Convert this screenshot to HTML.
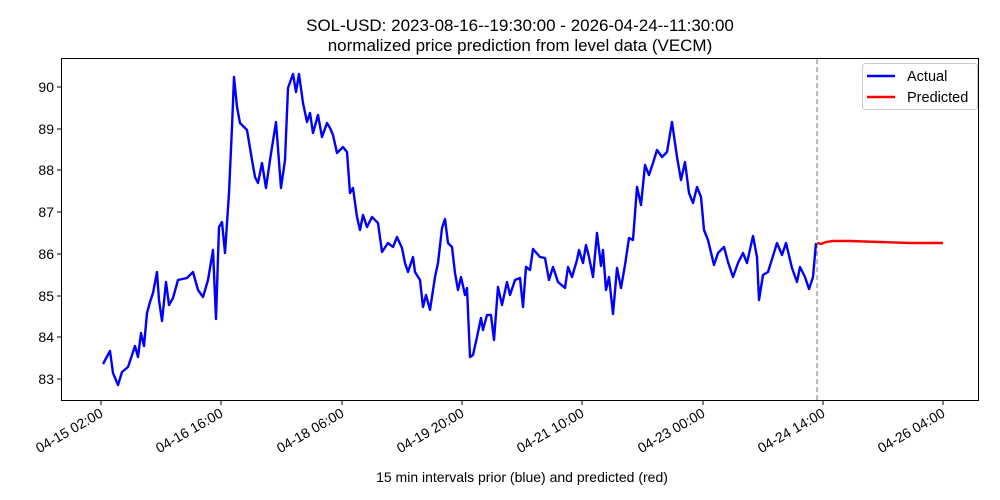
<!DOCTYPE html>
<html><head><meta charset="utf-8"><style>body{margin:0;background:#fff}svg{display:block}text{font-family:"Liberation Sans","DejaVu Sans",sans-serif;fill:#000}</style></head><body>
<svg width="1000" height="500" viewBox="0 0 1000 500">
<text x="520" y="31" font-size="17" text-anchor="middle">SOL-USD: 2023-08-16--19:30:00 - 2026-04-24--11:30:00</text>
<text x="520" y="51" font-size="17" text-anchor="middle">normalized price prediction from level data (VECM)</text>
<rect x="61.5" y="58.5" width="917" height="342" fill="none" stroke="#000" stroke-width="1"/>
<g font-size="14" text-anchor="end">
<line x1="57" x2="61" y1="87" y2="87" stroke="#000"/><text x="54" y="92">90</text>
<line x1="57" x2="61" y1="129" y2="129" stroke="#000"/><text x="54" y="134">89</text>
<line x1="57" x2="61" y1="170" y2="170" stroke="#000"/><text x="54" y="175">88</text>
<line x1="57" x2="61" y1="212" y2="212" stroke="#000"/><text x="54" y="217">87</text>
<line x1="57" x2="61" y1="254" y2="254" stroke="#000"/><text x="54" y="259">86</text>
<line x1="57" x2="61" y1="296" y2="296" stroke="#000"/><text x="54" y="301">85</text>
<line x1="57" x2="61" y1="337" y2="337" stroke="#000"/><text x="54" y="342">84</text>
<line x1="57" x2="61" y1="379" y2="379" stroke="#000"/><text x="54" y="384">83</text>
</g>
<g stroke="#000">
<line x1="101" x2="101" y1="401" y2="405"/><line x1="221" x2="221" y1="401" y2="405"/><line x1="342" x2="342" y1="401" y2="405"/><line x1="462" x2="462" y1="401" y2="405"/><line x1="582" x2="582" y1="401" y2="405"/><line x1="703" x2="703" y1="401" y2="405"/><line x1="823" x2="823" y1="401" y2="405"/><line x1="943" x2="943" y1="401" y2="405"/>
</g>
<g font-size="14" text-anchor="end">
<text transform="translate(104,416) rotate(-30)">04-15 02:00</text>
<text transform="translate(224,416) rotate(-30)">04-16 16:00</text>
<text transform="translate(345,416) rotate(-30)">04-18 06:00</text>
<text transform="translate(465,416) rotate(-30)">04-19 20:00</text>
<text transform="translate(585,416) rotate(-30)">04-21 10:00</text>
<text transform="translate(706,416) rotate(-30)">04-23 00:00</text>
<text transform="translate(826,416) rotate(-30)">04-24 14:00</text>
<text transform="translate(946,416) rotate(-30)">04-26 04:00</text>
</g>
<text x="522" y="482" font-size="14" text-anchor="middle">15 min intervals prior (blue) and predicted (red)</text>
<line x1="817" x2="817" y1="59" y2="400" stroke="#777" stroke-width="1" stroke-dasharray="5,3"/>
<polyline fill="none" stroke="#0000ff" stroke-width="2.4" stroke-linejoin="round" points="103,364 110,351 113,373 118,385 122,372 128,367 135,346 138,357 141,333 144,346 147,313 150,302 153,293 157,272 159,300 162,321 166,282 169,305 173,298 178,280 187,278 193,272 198,290 203,297 208,280 213,250 216,319 219,227 222,222 225,253 229,193 232,127 234,77 237,107 240,123 247,130 252,160 255,177 258,183 262,163 266,188 270,160 276,122 281,188 285,160 288,88 293,74 296,92 299,74 303,103 307,122 310,113 313,133 318,115 322,137 327,123 330,128 333,135 337,153 343,147 347,152 350,193 353,188 357,217 360,230 363,215 367,227 372,217 378,223 382,252 388,243 393,247 397,237 402,248 405,263 408,272 413,257 415,272 420,280 423,307 426,295 430,310 435,277 438,263 442,228 445,219 448,243 452,247 455,273 458,290 461,277 465,295 467,288 470,357 473,355 477,337 481,318 483,330 487,315 491,315 494,340 498,287 502,305 507,282 510,295 515,280 520,278 523,307 526,267 530,270 533,249 540,257 545,258 549,280 553,267 558,282 565,288 568,267 572,277 577,260 579,250 583,263 586,245 589,257 593,277 597,233 601,266 603,250 606,290 609,277 613,314 617,268 621,288 625,265 629,238 633,240 637,187 641,205 645,165 649,175 653,163 657,150 662,157 667,152 672,122 677,157 681,180 685,162 689,193 693,203 697,187 701,197 704,230 708,240 714,265 718,253 724,247 728,262 733,277 738,263 743,253 747,263 753,236 757,257 759,300 763,275 768,272 773,256 777,243 782,255 786,243 792,268 797,282 800,267 805,277 809,289 813,277 816,243"/>
<polyline fill="none" stroke="#ff0000" stroke-width="2.4" points="817,243 821,244 826,242 833,241 850,241 880,242 910,243 943,243"/>
<rect x="862.5" y="63.5" width="115" height="46" rx="3" fill="#fff" stroke="#ccc"/>
<line x1="867" x2="895" y1="76" y2="76" stroke="#0000ff" stroke-width="2.4"/>
<text x="907" y="81" font-size="14.5">Actual</text>
<line x1="867" x2="895" y1="97" y2="97" stroke="#ff0000" stroke-width="2.4"/>
<text x="907" y="102" font-size="14.5">Predicted</text>
</svg>
</body></html>
